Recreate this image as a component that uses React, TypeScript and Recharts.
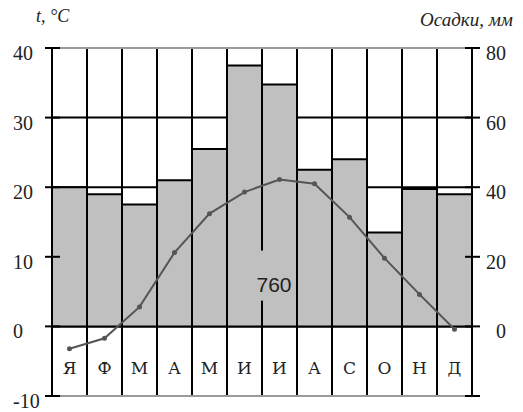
import {
  ComposedChart,
  Bar,
  Line,
  XAxis,
  YAxis,
  CartesianGrid,
  ReferenceLine,
  ReferenceArea,
} from 'recharts'

const MONTHS = ['Я', 'Ф', 'М', 'А', 'М', 'И', 'И', 'А', 'С', 'О', 'Н', 'Д']
// осадки, мм (правая ось)
const PRECIP = [40, 38, 35, 42, 51, 75, 69.5, 45, 48, 27, 39.5, 38]
// температура, °C (левая ось)
const TEMP = [-3.2, -1.7, 2.8, 10.6, 16.2, 19.3, 21.1, 20.5, 15.7, 9.8, 4.6, -0.4]
const TEMP_TICKS = [-10, 0, 10, 20, 30, 40]
const PRECIP_TICKS = [-20, 0, 20, 40, 60, 80]
const ANNUAL_TOTAL = '760'

const SERIF = "'Liberation Serif', 'Times New Roman', serif"
const BAR_GREY = '#c0c0c0'

const data = MONTHS.map((m, i) => ({
  key: String(i),
  month: m,
  precip: PRECIP[i],
  temp: TEMP[i],
}))

function LeftTick(props: any) {
  const { x, y, payload } = props
  return (
    <g>
      <line x1={x - 7} x2={x + 8} y1={y} y2={y} stroke="#000" strokeWidth={2} />
      <text x={x - 39} y={y} dy={12} textAnchor="start" fontSize={20} fontFamily={SERIF} fill="#222">
        {payload.value}
      </text>
    </g>
  )
}

function RightTick(props: any) {
  const { x, y, payload } = props
  return (
    <g>
      <line x1={x - 7} x2={x + 8} y1={y} y2={y} stroke="#000" strokeWidth={2} />
      {payload.value >= 0 && (
        <text x={x + 34} y={y} dy={12} textAnchor="end" fontSize={20} fontFamily={SERIF} fill="#222">
          {payload.value}
        </text>
      )}
    </g>
  )
}

function MonthTick(props: any) {
  const { x, y, payload } = props
  return (
    <text
      x={x}
      y={y - 22}
      textAnchor="middle"
      fontSize={17}
      fontFamily="'DejaVu Serif', serif"
      fill="#222"
    >
      {MONTHS[Number(payload.value)]}
    </text>
  )
}

// gap in the June/July divider behind the annual total
function TotalPatch(props: any) {
  const { x, y, width, height } = props
  return <rect x={x + 5} y={y} width={width - 10} height={height} fill={BAR_GREY} />
}

export default function App() {
  return (
    <div style={{ position: 'absolute', left: 0, top: 0, width: 523, height: 412, background: '#fff' }}>
      <div
        style={{
          position: 'absolute', left: 36, top: 6, fontFamily: SERIF, fontStyle: 'italic',
          fontSize: 18, color: '#222', whiteSpace: 'nowrap',
        }}
      >
        t, °C
      </div>
      <div
        style={{
          position: 'absolute', right: 10, top: 9, fontFamily: SERIF, fontStyle: 'italic',
          fontSize: 19, color: '#222', whiteSpace: 'nowrap',
        }}
      >
        Осадки, мм
      </div>
      <ComposedChart
        width={523}
        height={412}
        data={data}
        margin={{ top: 48, right: 11, bottom: -4, left: 12 }}
        barCategoryGap={0}
        barGap={0}
      >
        <CartesianGrid yAxisId="t" vertical={false} stroke="#000" strokeWidth={2} />
        <XAxis
          dataKey="key"
          height={20}
          tickSize={0}
          tickMargin={0}
          axisLine={false}
          tickLine={false}
          tick={<MonthTick />}
          interval={0}
        />
        <YAxis
          yAxisId="t"
          type="number"
          domain={[-10, 40]}
          ticks={TEMP_TICKS}
          width={40}
          tickSize={0}
          tickMargin={0}
          axisLine={false}
          tickLine={false}
          tick={<LeftTick />}
          interval={0}
        />
        <YAxis
          yAxisId="p"
          orientation="right"
          type="number"
          domain={[-20, 80]}
          ticks={PRECIP_TICKS}
          width={40}
          tickSize={0}
          tickMargin={0}
          axisLine={false}
          tickLine={false}
          tick={<RightTick />}
          interval={0}
        />
        <Bar
          yAxisId="p"
          dataKey="precip"
          fill={BAR_GREY}
          stroke="#000"
          strokeWidth={2}
          background={{ fill: 'none', stroke: '#000', strokeWidth: 2 }}
          isAnimationActive={false}
        />
        <ReferenceLine yAxisId="t" y={40} stroke="#9a9a9a" strokeWidth={2} zIndex={350} />
        <ReferenceLine yAxisId="t" y={-10} stroke="#9a9a9a" strokeWidth={2} zIndex={350} />
        <Line
          yAxisId="t"
          dataKey="temp"
          stroke="#555"
          strokeWidth={2}
          dot={{ r: 1.5, fill: '#555', stroke: '#555' }}
          isAnimationActive={false}
        />
        <ReferenceArea
          yAxisId="t"
          x1="5"
          x2="6"
          y1={3.7}
          y2={10.9}
          fill={BAR_GREY}
          fillOpacity={1}
          stroke="none"
          zIndex={450}
          shape={<TotalPatch />}
          label={{
            value: ANNUAL_TOTAL,
            position: 'insideBottom',
            offset: 9,
            dx: 12,
            fontSize: 21,
            fontFamily: "'Liberation Sans', Arial, sans-serif",
            fill: '#222',
          }}
        />
      </ComposedChart>
    </div>
  )
}
